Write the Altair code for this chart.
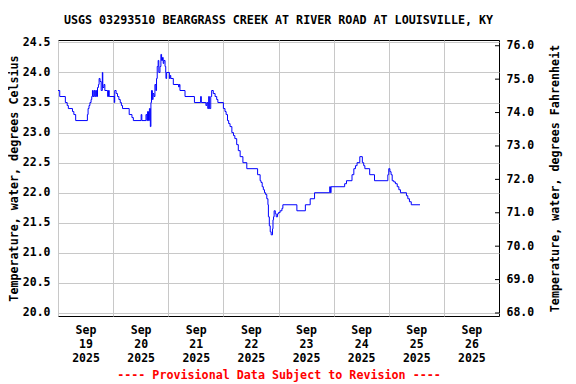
import altair as alt
import pandas as pd

TITLE = "USGS 03293510 BEARGRASS CREEK AT RIVER ROAD AT LOUISVILLE, KY"
FOOTER = "---- Provisional Data Subject to Revision ----"
Y_LEFT_TITLE = "Temperature, water, degrees Celsius"
Y_RIGHT_TITLE = "Temperature, water, degrees Fahrenheit"

# hours since 2025-09-19 00:00 (UTC used as a neutral clock) where the reading changes
hours = [
    0.0, 0.75, 3.2, 4.0, 4.5, 6.3, 6.9, 7.7, 12.8, 13.1, 13.5, 13.9, 14.4, 14.7,
    15.0, 15.3, 15.7, 16.0, 16.4, 16.8, 17.2, 17.6, 17.9, 18.3, 18.8, 19.3, 19.5,
    20.0, 20.4, 21.6, 22.0, 22.3, 24.5, 24.7, 25.3, 25.9, 26.5, 27.1, 27.6, 28.1,
    31.0, 32.2, 32.8, 36.2, 36.5, 38.3, 38.7, 39.0, 39.4, 39.8, 40.2, 40.45, 40.7,
    41.1, 41.4, 41.8, 42.2, 42.6, 42.9, 43.2, 43.6, 43.9, 44.4, 44.8, 45.1, 45.5,
    45.8, 46.1, 46.6, 46.9, 47.0, 47.3, 48.5, 48.8, 49.1, 50.2, 52.5, 52.8, 53.1,
    55.3, 59.4, 62.1, 62.4, 64.4, 64.8, 65.2, 65.6, 65.9, 66.5, 66.9, 67.6, 68.4,
    69.1, 69.6, 72.0, 72.7, 73.2, 73.8, 74.3, 74.9, 75.7, 76.4, 77.0, 77.8, 78.5,
    79.3, 80.5, 82.2, 86.9, 88.0, 88.4, 88.9, 89.4, 89.9, 90.4, 90.9, 91.4, 91.6,
    92.0, 92.4, 92.8, 93.4, 93.6, 93.85, 94.1, 94.6, 95.0, 95.6, 96.0, 96.7, 97.5,
    97.9, 104.0, 107.7, 109.8, 111.7, 118.3, 118.6, 118.9, 124.8, 125.6, 128.0,
    128.8, 129.5, 130.2, 131.4, 132.5, 133.1, 133.6, 135.7, 137.8, 143.6, 144.0,
    144.5, 145.0, 145.5, 146.2, 146.9, 147.7, 148.4, 149.1, 151.7, 152.3, 153.0,
    153.8, 157.6,
]
temps_c = [
    23.7, 23.6, 23.5, 23.45, 23.4, 23.35, 23.3, 23.2, 23.3, 23.4, 23.45, 23.5, 23.55, 23.6,
    23.7, 23.6, 23.7, 23.6, 23.7, 23.6, 23.75, 23.8, 23.9, 23.85, 23.7, 24.0, 23.75,
    23.8, 23.7, 23.6, 23.7, 23.6, 23.5, 23.7, 23.65, 23.6, 23.55, 23.5, 23.45, 23.4,
    23.3, 23.25, 23.2, 23.3, 23.2, 23.3, 23.2, 23.35, 23.2, 23.4, 23.1, 23.5, 23.7,
    23.55, 23.65, 23.6, 23.8, 23.7, 23.9, 24.1, 24.2, 24.0, 24.1, 24.3, 24.2, 24.25,
    24.15, 24.2, 24.1, 24.0, 23.9, 24.0, 23.9, 23.95, 23.9, 23.8, 23.76, 23.8, 23.7,
    23.6, 23.5, 23.6, 23.5, 23.45, 23.5, 23.4, 23.6, 23.4, 23.6, 23.7, 23.65, 23.6,
    23.55, 23.5, 23.4, 23.35, 23.3, 23.2, 23.15, 23.1, 23.0, 22.95, 22.9, 22.8, 22.7,
    22.6, 22.5, 22.4, 22.3, 22.2, 22.17, 22.1, 22.05, 22.0, 21.97, 21.9, 21.8, 21.6,
    21.45, 21.35, 21.3, 21.4, 21.55, 21.6, 21.7, 21.65, 21.6, 21.65, 21.67, 21.7, 21.74,
    21.8, 21.7, 21.8, 21.9, 22.0, 22.1, 22.0, 22.1, 22.15, 22.2, 22.3,
    22.4, 22.45, 22.5, 22.6, 22.5, 22.45, 22.4, 22.3, 22.2, 22.3, 22.4,
    22.35, 22.3, 22.2, 22.18, 22.15, 22.1, 22.05, 22.0, 21.95, 21.9, 21.85,
    21.8, 21.8,
]
c_ticks = [20.0, 20.5, 21.0, 21.5, 22.0, 22.5, 23.0, 23.5, 24.0, 24.5]
f_ticks = [68.0, 69.0, 70.0, 71.0, 72.0, 73.0, 74.0, 75.0, 76.0]
label_days = [19, 20, 21, 22, 23, 24, 25, 26]
c_domain = [19.95, 24.54]
f_domain = [c_domain[0] * 1.8 + 32, c_domain[1] * 1.8 + 32]

FONT = "DejaVu Sans Mono"

start = pd.Timestamp("2025-09-19T00:00:00")
times = [(start + pd.Timedelta(hours=h)).strftime("%Y-%m-%dT%H:%M:%SZ") for h in hours]
df = pd.DataFrame({"time": times, "temp": temps_c})
df_f = pd.DataFrame({"f": f_ticks})

x_enc = alt.X(
    "time:T",
    scale=alt.Scale(
        type="utc",
        domain=[alt.DateTime(year=2025, month=9, date=19, utc=True),
                alt.DateTime(year=2025, month=9, date=27, utc=True)],
        nice=False,
    ),
    axis=alt.Axis(
        values=[alt.DateTime(year=2025, month=9, date=d, utc=True) for d in label_days],
        labelExpr="[utcFormat(datum.value, '%b'), utcFormat(datum.value, '%d'), utcFormat(datum.value, '%Y')]",
        labelOffset=27.5,
        labelFlush=False,
        labelOverlap=False,
        labelPadding=8,
        labelLineHeight=14,
        labelBaseline="top",
        ticks=False,
        domain=False,
        grid=True,
        title=FOOTER,
        titleColor="#ff0000",
        titleBaseline="alphabetic",
        titleY=62,
    ),
)

line = alt.Chart(df).mark_line(
    interpolate="step-after", color="#0000ff", strokeWidth=1
).encode(
    x=x_enc,
    y=alt.Y(
        "temp:Q",
        scale=alt.Scale(domain=c_domain, nice=False, zero=False),
        axis=alt.Axis(
            orient="left", values=c_ticks, format=".1f", ticks=False, domain=False,
            grid=True, labelPadding=8, title=Y_LEFT_TITLE, titlePadding=3,
        ),
    ),
)

right_ticks = alt.Chart(df_f).mark_rule(color="black", strokeWidth=1).encode(
    y=alt.Y(
        "f:Q",
        scale=alt.Scale(domain=f_domain, nice=False, zero=False),
        axis=alt.Axis(
            orient="right", values=f_ticks, format=".1f", ticks=False, domain=False,
            grid=False, labelPadding=7, title=Y_RIGHT_TITLE, titlePadding=27,
            titleAngle=270,
        ),
    ),
    x=alt.value(437),
    x2=alt.value(441),
)

chart = alt.layer(line, right_ticks).resolve_scale(y="independent").properties(
    width=441,
    height=276,
    autosize=alt.AutoSizeParams(type="none"),
    padding={"left": 50, "top": 32, "right": 69, "bottom": 68},
    title=alt.TitleParams(
        TITLE, font=FONT, fontSize=11.7, fontWeight="bold", anchor="middle",
        frame="group", offset=10, color="black",
    ),
).configure_view(
    stroke="black", strokeWidth=1
).configure_axis(
    labelFont=FONT, labelFontSize=11.5, labelFontWeight="bold", labelColor="black",
    titleFont=FONT, titleFontSize=11.7, titleFontWeight="bold",
    gridColor="#c8c8c8", gridWidth=1, gridOpacity=1,
).configure_axisY(titleColor="black")

chart.save("out.html", embed_options={"renderer": "svg", "actions": False})
